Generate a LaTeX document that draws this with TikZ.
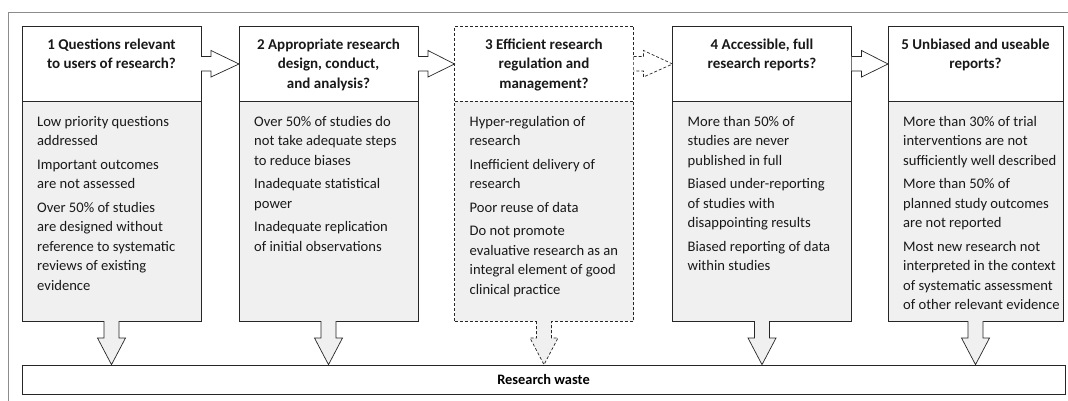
\documentclass[tikz,border=0pt]{standalone}
\usepackage{fontspec}
\setmainfont{Carlito}
\usetikzlibrary{calc}
\begin{document}
\begin{tikzpicture}[x=1pt,y=-1pt,
  hdr/.style={draw=black!85, line width=0.7pt, fill=white, minimum width=179pt, minimum height=75pt, inner sep=0pt, outer sep=0pt},
  bod/.style={draw=black!85, line width=0.7pt, fill=black!6, minimum width=179pt, minimum height=220pt, inner sep=0pt, outer sep=0pt},
  htxt/.style={font=\fontsize{15}{19.5}\selectfont\bfseries, align=center, anchor=north, inner sep=0pt, text=black!90},
  btxt/.style={font=\fontsize{14.6}{19.5}\selectfont, align=left, anchor=north west, inner sep=0pt, text=black!90},
  harrow/.style={draw=black!85, line width=0.7pt, fill=white},
  varrow/.style={draw=black!85, line width=0.7pt, fill=black!6},
  dsh/.style={dashed, dash pattern=on 3pt off 2pt}
]
\useasboundingbox (0,0) rectangle (1068,401);
% outer frame
\draw[black!45, line width=0.6pt] (8,401) -- (8,12) -- (1068,12);

% headers
\node[hdr] (h1) at (111.5,63.5) {};
\node[hdr] (h2) at (328.5,63.5) {};
\node[hdr, dsh] (h3) at (544,63.5) {};
\node[hdr] (h4) at (762,63.5) {};
\node[hdr, minimum width=175pt] (h5) at (975.5,63.5) {};
% bodies
\node[bod] (b1) at (111.5,211) {};
\node[bod] (b2) at (328.5,211) {};
\node[bod, dsh] (b3) at (544,211) {};
\node[bod] (b4) at (762,211) {};
\node[bod, minimum width=175pt] (b5) at (975.5,211) {};

% bar
\node[draw=black!85, line width=0.7pt, fill=white, minimum width=1043pt, minimum height=29pt, inner sep=0pt,
  font=\fontsize{14.4}{16}\selectfont\bfseries] (rw) at (543.5,379.5) {Research waste};

% header texts
\node[htxt] (t1) at (h1.north) [yshift=-12.5pt] {1 Questions relevant\\to users of research?};
\node[htxt] (t2) at (h2.north) [yshift=-12.5pt] {2 Appropriate research\\design, conduct,\\and analysis?};
\node[htxt] (t3) at (h3.north) [yshift=-12.5pt] {3 Efficient research\\regulation and\\management?};
\node[htxt] (t4) at (h4.north) [yshift=-12.5pt] {4 Accessible, full\\research reports?};
\node[htxt] (t5) at (h5.north) [yshift=-12.5pt] {5 Unbiased and useable\\reports?};

% body texts
\node[btxt] (x1) at ($(b1.north west)+(15,15)$) {Low priority questions\\addressed\\[4pt]Important outcomes\\are not assessed\\[4pt]Over 50\% of studies\\are designed without\\reference to systematic\\reviews of existing\\evidence};
\node[btxt] (x2) at ($(b2.north west)+(15,15)$) {Over 50\% of studies do\\not take adequate steps\\to reduce biases\\[4pt]Inadequate statistical\\power\\[4pt]Inadequate replication\\of initial observations};
\node[btxt] (x3) at ($(b3.north west)+(15,15)$) {Hyper-regulation of\\research\\[4pt]Inefficient delivery of\\research\\[4pt]Poor reuse of data\\[4pt]Do not promote\\evaluative research as an\\integral element of good\\clinical practice};
\node[btxt] (x4) at ($(b4.north west)+(15,15)$) {More than 50\% of\\studies are never\\published in full\\[4pt]Biased under-reporting\\of studies with\\disappointing results\\[4pt]Biased reporting of data\\within studies};
\node[btxt] (x5) at ($(b5.north west)+(15,15)$) {More than 30\% of trial\\interventions are not\\sufficiently well described\\[4pt]More than 50\% of\\planned study outcomes\\are not reported\\[4pt]Most new research not\\interpreted in the context\\of systematic assessment\\of other relevant evidence};

% horizontal arrows
\foreach \a/\b in {h1/h2, h2/h3, h4/h5} {
  \draw[harrow] ($(\a.east)+(0,-7)$) -- ++(10,0) -- ++(0,-6) -- ($(\b.west)+(0,0.5)$) -- ($(\a.east)+(10,13.5)$) -- ++(0,-6) -- ($(\a.east)+(0,7.5)$);
}
\draw[harrow, dsh] ($(h3.east)+(0,-7)$) -- ++(10,0) -- ++(0,-6) -- ($(h4.west)+(0,0.5)$) -- ($(h3.east)+(10,13.5)$) -- ++(0,-6) -- ($(h3.east)+(0,7.5)$);

% vertical arrows
\foreach \b in {b1,b2,b4,b5} {
  \draw[varrow] ($(\b.south)+(-7.5,0)$) -- ++(0,17) -- ++(-6.5,0) -- ($(\b.south |- rw.north)$) -- ($(\b.south)+(14,17)$) -- ++(-6.5,0) -- ($(\b.south)+(7.5,0)$);
}
\draw[varrow, dsh] ($(b3.south)+(-7.5,0)$) -- ++(0,17) -- ++(-6.5,0) -- ($(b3.south |- rw.north)$) -- ($(b3.south)+(14,17)$) -- ++(-6.5,0) -- ($(b3.south)+(7.5,0)$);
\end{tikzpicture}
\end{document}
